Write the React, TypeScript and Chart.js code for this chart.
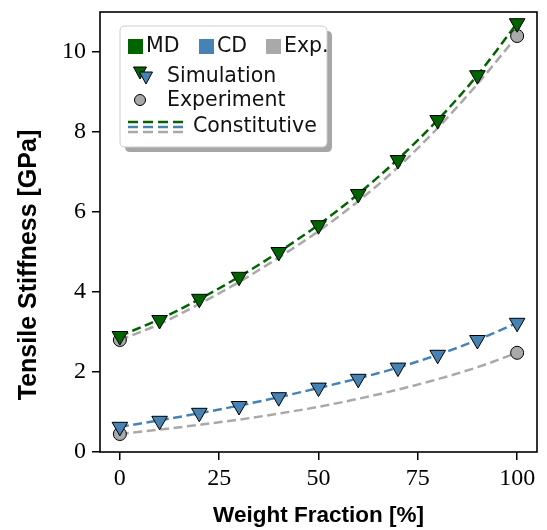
import React, { useEffect, useRef } from "react";
import { Chart, registerables } from "chart.js";

Chart.register(...registerables);

// ---------------- data ----------------
const weightFractions = [0, 10, 20, 30, 40, 50, 60, 70, 80, 90, 100];
const simulationMD = [2.9, 3.3, 3.83, 4.38, 5.0, 5.67, 6.45, 7.3, 8.3, 9.42, 10.72];
const simulationCD = [0.63, 0.78, 0.98, 1.15, 1.37, 1.61, 1.83, 2.11, 2.43, 2.8, 3.23];

const experimentFractions = [0, 100];
const experimentMD = [2.8, 10.4];
const experimentCD = [0.45, 2.48];

const constitutiveMD = [2.9, 3.32, 3.82, 4.38, 5.0, 5.68, 6.45, 7.32, 8.3, 9.42, 10.72];
const constitutiveCD = [0.63, 0.79, 0.97, 1.16, 1.37, 1.6, 1.84, 2.11, 2.43, 2.8, 3.23];
const constitutiveExpMD = [2.8, 3.2, 3.7, 4.25, 4.86, 5.52, 6.27, 7.12, 8.1, 9.2, 10.4];
const constitutiveExpCD = [0.45, 0.56, 0.68, 0.81, 0.96, 1.13, 1.33, 1.56, 1.82, 2.12, 2.48];

const xTicks = [0, 25, 50, 75, 100];
const yTicks = [0, 2, 4, 6, 8, 10];

const xTitle = "Weight Fraction [%]";
const yTitle = "Tensile Stiffness [GPa]";
const legendGroups = ["MD", "CD", "Exp."];
const legendRows = ["Simulation", "Experiment", "Constitutive"];

// ---------------- styles ----------------
const GREEN = "#006400";
const BLUE = "#4682b4";
const GREY = "#a9a9a9";

const pts = (xs: number[], ys: number[]) => xs.map((x, i) => ({ x, y: ys[i] }));

const framePlugin = {
  id: "frame",
  afterDatasetsDraw(chart: any) {
    const { ctx, chartArea: a } = chart;
    ctx.save();
    ctx.strokeStyle = "#000";
    ctx.lineWidth = 1.6;
    ctx.strokeRect(a.left, a.top, a.right - a.left, a.bottom - a.top);
    ctx.restore();
  },
};

const yTitlePlugin = {
  id: "yTitle",
  afterDraw(chart: any) {
    const ctx: CanvasRenderingContext2D = chart.ctx;
    ctx.save();
    ctx.translate(29, 265);
    ctx.rotate(-Math.PI / 2);
    ctx.font = "bold 25px 'Liberation Sans', Arial, sans-serif";
    ctx.fillStyle = "#000";
    ctx.textAlign = "center";
    ctx.textBaseline = "middle";
    ctx.fillText(yTitle, 0, 0);
    ctx.restore();
  },
};

function roundRect(ctx: CanvasRenderingContext2D, x: number, y: number, w: number, h: number, r: number) {
  ctx.beginPath();
  ctx.moveTo(x + r, y);
  ctx.lineTo(x + w - r, y);
  ctx.quadraticCurveTo(x + w, y, x + w, y + r);
  ctx.lineTo(x + w, y + h - r);
  ctx.quadraticCurveTo(x + w, y + h, x + w - r, y + h);
  ctx.lineTo(x + r, y + h);
  ctx.quadraticCurveTo(x, y + h, x, y + h - r);
  ctx.lineTo(x, y + r);
  ctx.quadraticCurveTo(x, y, x + r, y);
  ctx.closePath();
}

function downTriangle(ctx: CanvasRenderingContext2D, cx: number, cy: number, w: number, h: number, fill: string) {
  ctx.beginPath();
  ctx.moveTo(cx - w / 2, cy - h / 2);
  ctx.lineTo(cx + w / 2, cy - h / 2);
  ctx.lineTo(cx, cy + h / 2);
  ctx.closePath();
  ctx.fillStyle = fill;
  ctx.fill();
  ctx.strokeStyle = "#000";
  ctx.lineWidth = 1;
  ctx.stroke();
}

const legendPlugin = {
  id: "customLegend",
  afterDraw(chart: any) {
    const ctx: CanvasRenderingContext2D = chart.ctx;
    const bx = 120, by = 26, bw = 207, bh = 121;
    ctx.save();
    roundRect(ctx, bx + 5, by + 5, bw, bh, 5);
    ctx.fillStyle = "rgba(0,0,0,0.35)";
    ctx.fill();
    roundRect(ctx, bx, by, bw, bh, 5);
    ctx.fillStyle = "#ffffff";
    ctx.fill();
    ctx.strokeStyle = "#cccccc";
    ctx.lineWidth = 1;
    ctx.stroke();

    ctx.font = "20.5px 'DejaVu Sans'";
    ctx.textBaseline = "middle";
    ctx.textAlign = "left";

    const groupColors = [GREEN, BLUE, GREY];
    const sqX = [128, 199, 266];
    legendGroups.forEach((g, i) => {
      ctx.fillStyle = groupColors[i];
      ctx.fillRect(sqX[i], 39, 15, 15);
      ctx.fillStyle = "#111";
      ctx.fillText(g, sqX[i] + 18, 47);
    });

    downTriangle(ctx, 140, 73, 13, 12, GREEN);
    downTriangle(ctx, 146, 78, 13, 12, BLUE);
    ctx.fillStyle = "#111";
    ctx.fillText(legendRows[0], 167, 77);

    ctx.beginPath();
    ctx.arc(140, 100, 5.5, 0, Math.PI * 2);
    ctx.fillStyle = GREY;
    ctx.fill();
    ctx.strokeStyle = "#000";
    ctx.lineWidth = 1;
    ctx.stroke();
    ctx.fillStyle = "#111";
    ctx.fillText(legendRows[1], 167, 101);

    const lineColors = [GREEN, BLUE, GREY];
    ctx.lineWidth = 2.5;
    ctx.setLineDash([10, 5]);
    lineColors.forEach((c, i) => {
      ctx.beginPath();
      ctx.strokeStyle = c;
      ctx.moveTo(128, 122 + i * 5);
      ctx.lineTo(183, 122 + i * 5);
      ctx.stroke();
    });
    ctx.setLineDash([]);
    ctx.fillStyle = "#111";
    ctx.fillText(legendRows[2], 193, 127);
    ctx.restore();
  },
};

export default function App() {
  const ref = useRef<HTMLCanvasElement | null>(null);

  useEffect(() => {
    document.body.style.margin = "0";
    if (!ref.current) return;
    const lineDs = (label: string, ys: number[], color: string, order: number) => ({
      label,
      data: pts(weightFractions, ys),
      showLine: true,
      borderColor: color,
      borderWidth: 2.5,
      borderDash: [9, 4.5],
      pointRadius: 0,
      cubicInterpolationMode: "monotone" as const,
      fill: false,
      order,
    });
    const triDs = (label: string, ys: number[], color: string) => ({
      label,
      data: pts(weightFractions, ys),
      showLine: false,
      pointStyle: "triangle",
      rotation: 180,
      pointRadius: 9,
      pointBackgroundColor: color,
      pointBorderColor: "#000",
      pointBorderWidth: 1,
      order: 0,
    });
    const circDs = (label: string, ys: number[]) => ({
      label,
      data: pts(experimentFractions, ys),
      showLine: false,
      pointStyle: "circle",
      pointRadius: 6.5,
      pointBackgroundColor: GREY,
      pointBorderColor: "#000",
      pointBorderWidth: 1,
      order: 1,
    });

    const tickFont = { family: "'Liberation Serif', serif", size: 24 };
    const titleFont = { family: "'Liberation Sans', Arial, sans-serif", size: 22.5, weight: "bold" as const };
    const zeroPad = (s: any) => {
      s.paddingTop = 0;
      s.paddingBottom = 0;
      s.paddingLeft = 0;
      s.paddingRight = 0;
    };

    const chart = new Chart(ref.current, {
      type: "scatter",
      data: {
        datasets: [
          triDs("Simulation MD", simulationMD, GREEN),
          triDs("Simulation CD", simulationCD, BLUE),
          circDs("Experiment MD", experimentMD),
          circDs("Experiment CD", experimentCD),
          lineDs("Constitutive MD", constitutiveMD, GREEN, 2),
          lineDs("Constitutive CD", constitutiveCD, BLUE, 2),
          lineDs("Constitutive Exp. MD", constitutiveExpMD, GREY, 3),
          lineDs("Constitutive Exp. CD", constitutiveExpCD, GREY, 3),
        ] as any,
      },
      options: {
        animation: false,
        responsive: false,
        layout: { padding: { top: 12, right: 4, left: 0, bottom: 0 } },
        plugins: { legend: { display: false }, tooltip: { enabled: false } },
        scales: {
          x: {
            type: "linear",
            min: -5,
            max: 105,
            afterBuildTicks: (s: any) => {
              s.ticks = xTicks.map((v) => ({ value: v }));
            },
            afterFit: (s: any) => {
              s.height = 78;
              zeroPad(s);
            },
            grid: { drawOnChartArea: false, drawTicks: true, tickLength: 8, color: "#000", lineWidth: 1.5 },
            border: { display: false },
            ticks: { font: tickFont, color: "#000", padding: 4, maxRotation: 0, autoSkip: false },
            title: { display: true, text: xTitle, font: titleFont, color: "#000", padding: { top: 0, bottom: 1 } },
          },
          y: {
            type: "linear",
            min: 0,
            max: 11,
            afterBuildTicks: (s: any) => {
              s.ticks = yTicks.map((v) => ({ value: v }));
            },
            afterFit: (s: any) => {
              s.width = 100;
              zeroPad(s);
            },
            grid: { drawOnChartArea: false, drawTicks: true, tickLength: 8, color: "#000", lineWidth: 1.5 },
            border: { display: false },
            ticks: { font: tickFont, color: "#000", padding: 6, autoSkip: false },
            title: { display: false },
          },
        },
      },
      plugins: [framePlugin, legendPlugin, yTitlePlugin],
    });
    return () => chart.destroy();
  }, []);

  return (
    <div style={{ width: 547, height: 530 }}>
      <canvas ref={ref} width={547} height={530} />
    </div>
  );
}
